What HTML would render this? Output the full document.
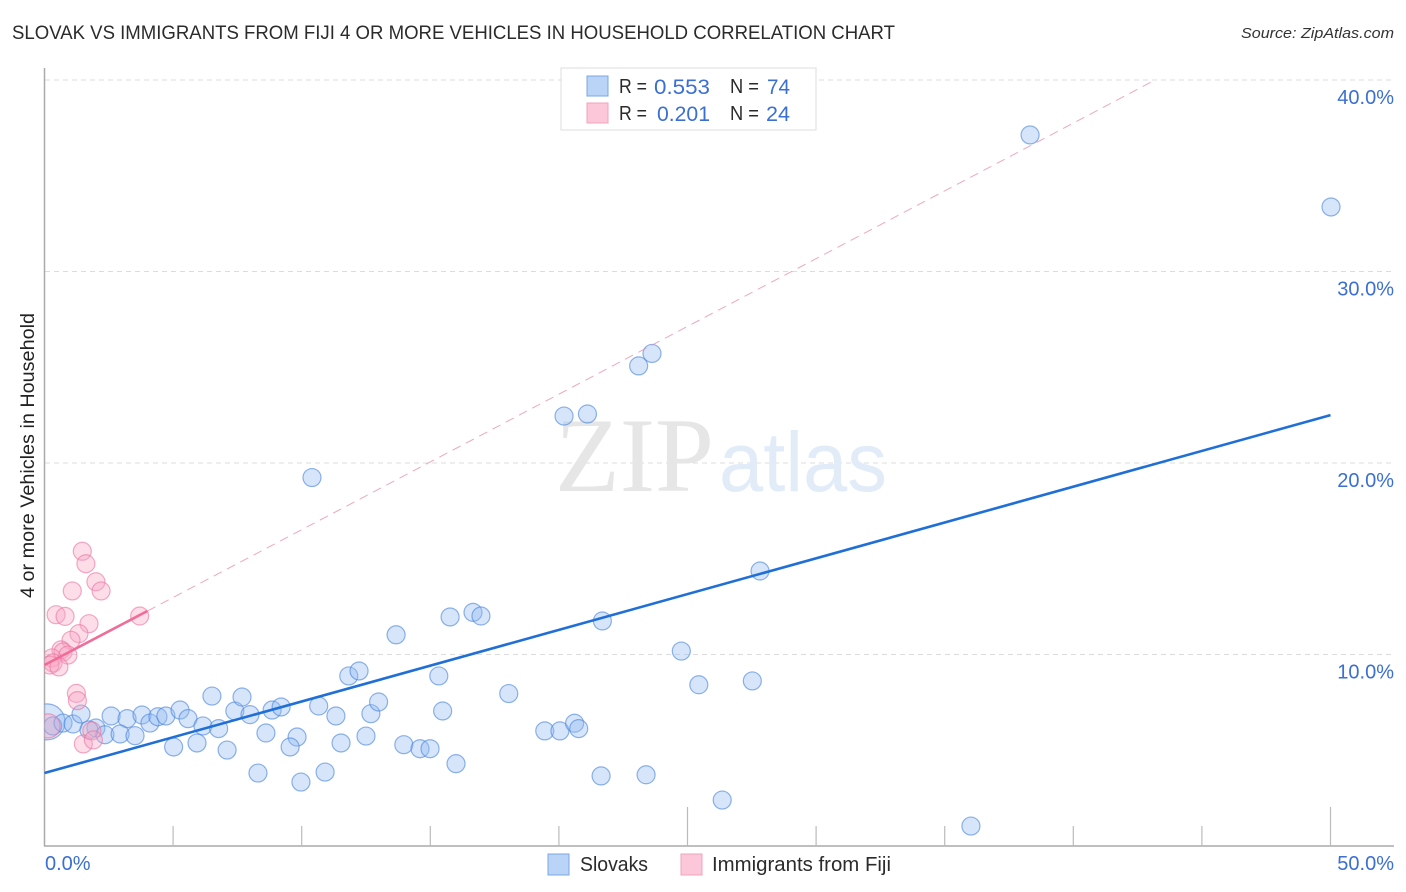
<!DOCTYPE html>
<html lang="en">
<head>
<meta charset="utf-8">
<title>Slovak vs Immigrants from Fiji correlation chart</title>
<style>
html,body{margin:0;padding:0;background:#fff;}
svg{display:block;font-family:"Liberation Sans",sans-serif;}
</style>
</head>
<body>
<svg id="chart" xmlns="http://www.w3.org/2000/svg" width="1406" height="892" viewBox="0 0 1406 892">
  <defs>
    <clipPath id="plot-clip"><rect x="44.5" y="60" width="1360" height="786"/></clipPath>
  </defs>
  <rect width="1406" height="892" fill="#fff"/>
  <text x="12" y="39" font-size="19" fill="#2b2b2b" textLength="883" lengthAdjust="spacingAndGlyphs">SLOVAK VS IMMIGRANTS FROM FIJI 4 OR MORE VEHICLES IN HOUSEHOLD CORRELATION CHART</text>
  <text x="1241" y="38" font-size="15" font-style="italic" fill="#333" textLength="153" lengthAdjust="spacingAndGlyphs">Source: ZipAtlas.com</text>
  <g id="grid"></g>
  <g>
    <text x="555" y="491" font-family="'Liberation Serif',serif" font-size="106" fill="#e6e6e6" textLength="159" lengthAdjust="spacingAndGlyphs">ZIP</text>
    <text x="719" y="491" font-size="84" fill="#e2ecf9" textLength="168" lengthAdjust="spacingAndGlyphs">atlas</text>
  </g>
  <g id="axes"></g>
  <g id="slovak-points" clip-path="url(#plot-clip)"></g>
  <g id="fiji-points" clip-path="url(#plot-clip)"></g>
  <g id="trends"></g>
  <g id="tick-labels"></g>
  <text transform="translate(34,598) rotate(-90)" x="0" y="0" font-size="19" fill="#222" textLength="285" lengthAdjust="spacingAndGlyphs">4 or more Vehicles in Household</text>

  <g font-size="20">
    <rect x="561" y="68" width="255" height="62" fill="#fff" stroke="#ddd" stroke-width="1"/>
    <rect x="587" y="76" width="21" height="20" fill="#b9d4f7" stroke="#79a7e3" stroke-width="1"/>
    <rect x="587" y="103" width="21" height="20" fill="#fcc8d9" stroke="#efa3bc" stroke-width="1"/>
    <text x="619" y="93" fill="#2b2b2b" textLength="28" lengthAdjust="spacingAndGlyphs">R =</text>
    <text x="654" y="94" fill="#3b6fd4" font-size="21" textLength="56" lengthAdjust="spacingAndGlyphs">0.553</text>
    <text x="730" y="93" fill="#2b2b2b" textLength="29" lengthAdjust="spacingAndGlyphs">N =</text>
    <text x="767" y="94" fill="#3b6fd4" font-size="21" textLength="23" lengthAdjust="spacingAndGlyphs">74</text>
    <text x="619" y="120" fill="#2b2b2b" textLength="28" lengthAdjust="spacingAndGlyphs">R =</text>
    <text x="657" y="121" fill="#3b6fd4" font-size="21" textLength="53" lengthAdjust="spacingAndGlyphs">0.201</text>
    <text x="730" y="120" fill="#2b2b2b" textLength="29" lengthAdjust="spacingAndGlyphs">N =</text>
    <text x="766" y="121" fill="#3b6fd4" font-size="21" textLength="24" lengthAdjust="spacingAndGlyphs">24</text>
  </g>

  <g font-size="20" fill="#2b2b2b">
    <rect x="548" y="854" width="21" height="21" fill="#b9d4f7" stroke="#79a7e3" stroke-width="1"/>
    <text x="580" y="871" textLength="68" lengthAdjust="spacingAndGlyphs">Slovaks</text>
    <rect x="681" y="854" width="21" height="21" fill="#fcc8d9" stroke="#efa3bc" stroke-width="1"/>
    <text x="712" y="871" textLength="179" lengthAdjust="spacingAndGlyphs">Immigrants from Fiji</text>
  </g>
</svg>

<script>
const xTickValues = [0, 5, 10, 15, 20, 25, 30, 35, 40, 45, 50];
const yTickValues = [10, 20, 30, 40];
const yTickLabels = ["10.0%", "20.0%", "30.0%", "40.0%"];
const xEdgeTickValues = [0, 50];
const xEdgeTickLabels = ["0.0%", "50.0%"];

const slovakX = [0.10,0.32,0.72,1.11,1.42,2.59,3.21,3.79,4.10,4.41,4.72,5.27,2.00,1.73,2.35,2.94,3.52,5.02,5.58,6.16,6.77,6.51,7.40,7.68,7.99,8.85,9.20,10.66,11.83,12.23,11.33,5.93,7.10,8.61,9.82,9.55,8.30,9.97,10.91,11.53,12.69,12.99,12.50,13.67,15.33,15.48,13.97,14.60,14.99,16.00,15.77,16.66,16.97,18.05,21.69,19.45,20.04,20.61,20.77,21.64,23.39,24.76,25.44,27.52,26.35,27.82,36.02,38.32,50.02,23.62,23.10,21.11,20.20,10.40];
const slovakY = [6.48,6.27,6.42,6.37,6.89,6.79,6.65,6.84,6.42,6.75,6.79,7.10,6.16,6.06,5.81,5.85,5.76,5.17,6.65,6.27,6.13,7.83,7.05,7.78,6.86,7.10,7.26,7.31,8.88,9.14,6.79,5.38,5.01,5.90,5.69,5.17,3.81,3.34,3.86,5.38,6.91,7.52,5.74,11.03,8.88,7.05,5.29,5.08,5.08,4.30,11.96,12.20,12.01,7.96,11.75,6.01,6.01,6.41,6.13,3.66,3.72,10.18,8.42,8.62,2.40,14.36,1.04,37.13,33.37,25.72,25.07,22.56,22.45,19.24];
const slovakWeight = [4,1,1,1,1,1,1,1,1,1,1,1,1,1,1,1,1,1,1,1,1,1,1,1,1,1,1,1,1,1,1,1,1,1,1,1,1,1,1,1,1,1,1,1,1,1,1,1,1,1,1,1,1,1,1,1,1,1,1,1,1,1,1,1,1,1,1,1,1,1,1,1,1,1];

const fijiX = [0.14,1.47,1.61,2.00,2.20,1.08,0.45,0.80,3.70,1.73,1.34,1.03,0.64,0.72,0.91,0.29,0.33,0.21,0.56,1.24,1.28,1.51,1.84,1.90];
const fijiY = [6.27,15.39,14.74,13.80,13.32,13.32,12.08,11.99,12.01,11.61,11.09,10.74,10.24,10.13,9.97,9.82,9.56,9.45,9.35,7.97,7.59,5.33,6.01,5.54];
const fijiWeight = [1.8,1,1,1,1,1,1,1,1,1,1,1,1,1,1,1,1,1,1,1,1,1,1,1];

const slovakTrendX = [0, 50];
const slovakTrendY = [3.81, 22.5];
const fijiTrendX = [0, 4];
const fijiTrendY = [9.45, 12.27];
const fijiExtensionX = [4, 43.18];
const fijiExtensionY = [12.27, 40];

const NS = "http://www.w3.org/2000/svg";
const xAxis = v => 44.5 + v * 25.72;
const yAxis = v => 846 - v * 19.15;
const radius = w => 9 * Math.sqrt(w);

function mk(parent, tag, props) {
  const el = document.createElementNS(NS, tag);
  for (const k in props) el.setAttribute(k, props[k]);
  document.getElementById(parent).appendChild(el);
  return el;
}

yTickValues.concat([0]).forEach(function (v) {
  if (v === 0) return;
  const el = mk("grid", "line", {x1: 45, x2: 1394, y1: yAxis(v), y2: yAxis(v), stroke: "#dcdcdc", "stroke-width": 1, "stroke-dasharray": "5 4"});
  
  
});

const yLine = mk("axes", "line", {x1: 44.5, x2: 44.5, y1: 68, y2: 846, stroke: "#aaa", "stroke-width": 1.5});



const xLine = mk("axes", "line", {x1: 44, x2: 1394, y1: 846, y2: 846, stroke: "#aaa", "stroke-width": 1.5});



xTickValues.forEach(function (v) {
  if (v === 0) return;
  const top = v % 25 === 0 ? 807 : 826;
  const el = mk("axes", "line", {x1: xAxis(v), x2: xAxis(v), y1: top, y2: 846, stroke: "#bbb", "stroke-width": 1.2});
  
  
});

slovakX.forEach(function (v, i) {
  const el = mk("slovak-points", "circle", {cx: xAxis(v), cy: yAxis(slovakY[i]), r: radius(slovakWeight[i]), fill: "rgba(147,187,243,0.38)", stroke: "rgba(70,130,220,0.6)", "stroke-width": 1.2});
  
  
});

fijiX.forEach(function (v, i) {
  const el = mk("fiji-points", "circle", {cx: xAxis(v), cy: yAxis(fijiY[i]), r: radius(fijiWeight[i]), fill: "rgba(247,165,195,0.38)", stroke: "rgba(235,115,160,0.6)", "stroke-width": 1.2});
  
  
});

const extension = mk("trends", "line", {x1: xAxis(fijiExtensionX[0]), y1: yAxis(fijiExtensionY[0]), x2: xAxis(fijiExtensionX[1]), y2: yAxis(fijiExtensionY[1]), stroke: "#e88aaa", "stroke-width": 1, "stroke-dasharray": "9 6", opacity: 0.75});



const slovakTrend = mk("trends", "line", {x1: xAxis(slovakTrendX[0]), y1: yAxis(slovakTrendY[0]), x2: xAxis(slovakTrendX[1]), y2: yAxis(slovakTrendY[1]), stroke: "#1f6fd6", "stroke-width": 2.6});



const fijiTrend = mk("trends", "line", {x1: xAxis(fijiTrendX[0]), y1: yAxis(fijiTrendY[0]), x2: xAxis(fijiTrendX[1]), y2: yAxis(fijiTrendY[1]), stroke: "#ef6d98", "stroke-width": 2.6});



yTickValues.forEach(function (v, i) {
  const el = mk("tick-labels", "text", {x: 1394, y: yAxis(v) + 24, "text-anchor": "end", "font-size": 20, fill: "#3b6fd4"});
  
  
  el.textContent = yTickLabels[i];
});

xEdgeTickValues.forEach(function (v, i) {
  const el = mk("tick-labels", "text", {x: i === 0 ? 45 : 1394, y: 870, "text-anchor": i === 0 ? "start" : "end", "font-size": 20, fill: "#3b6fd4"});
  
  
  el.textContent = xEdgeTickLabels[i];
});
</script>
</body>
</html>
